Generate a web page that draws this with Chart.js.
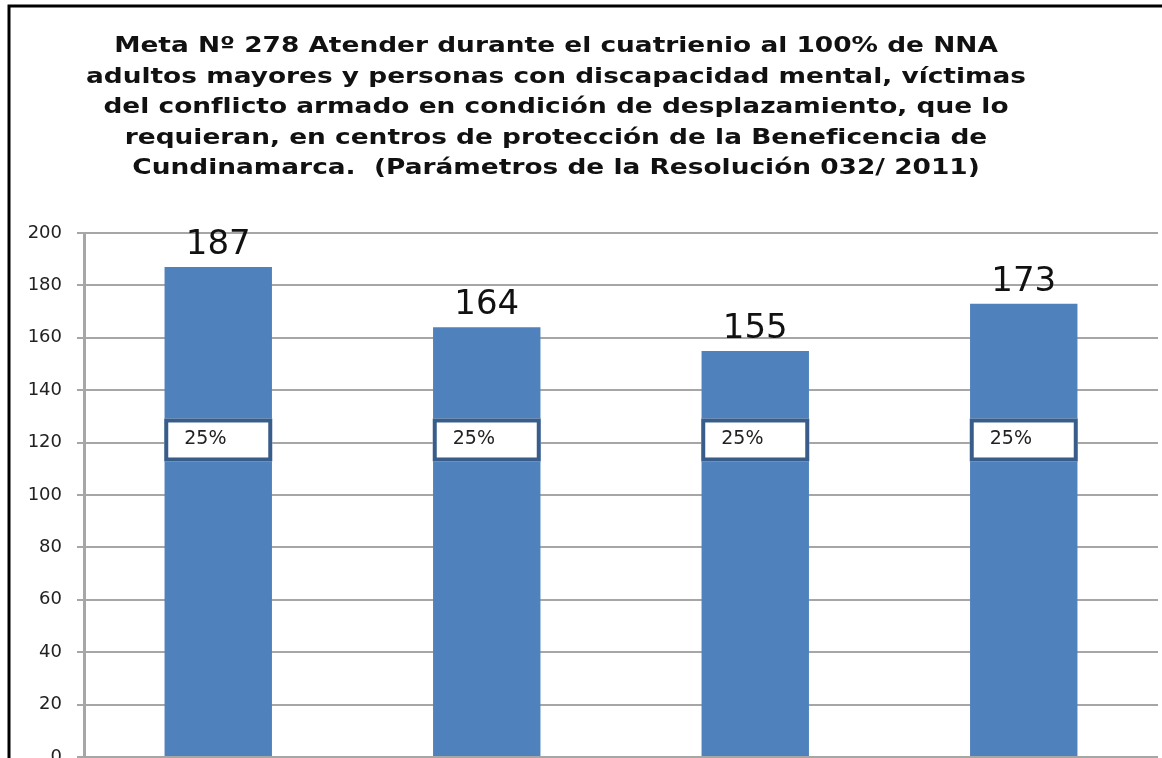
<!DOCTYPE html>
<html lang="es">
<head>
<meta charset="utf-8">
<script src="https://cdn.jsdelivr.net/npm/chart.js@4.4.0/dist/chart.umd.min.js"></script>
<style>
  html, body { margin: 0; padding: 0; background: #fff; }
  #wrap { width: 1162px; height: 758px; position: relative; }
</style>
</head>
<body>
<div id="wrap"><canvas id="metaChart"></canvas></div>
<script>
// Data
const categories = ["2012", "2013", "2014", "2015"];
const atendidos = [187, 164, 155, 173];
const porcentajes = ["25%", "25%", "25%", "25%"];
const yMax = 200;
const yStep = 20;
const titleLines = [
    "Meta Nº 278 Atender durante el cuatrienio al 100% de NNA",
    "adultos mayores y personas con discapacidad mental, víctimas",
    "del conflicto armado en condición de desplazamiento, que lo",
    "requieran, en centros de protección de la Beneficencia de",
    "Cundinamarca.  (Parámetros de la Resolución 032/ 2011)"
];

// Black frame (left + top) and the multi-line title
const frameAndTitle = {
    id: "frameAndTitle",
    beforeDraw(chart) {
        const ctx = chart.ctx;
        ctx.save();
        ctx.fillStyle = "#fff";
        ctx.fillRect(0, 0, chart.width, chart.height);
        ctx.strokeStyle = "#000";
        ctx.lineWidth = 3;
        ctx.beginPath();
        ctx.moveTo(9, chart.height);
        ctx.lineTo(9, 6);
        ctx.lineTo(chart.width, 6);
        ctx.stroke();

        // the original title is a wide, horizontally stretched bold face
        ctx.translate(556, 0);
        ctx.scale(1.2, 1);
        ctx.fillStyle = "#111";
        ctx.font = "bold 22px 'DejaVu Sans'";
        ctx.textAlign = "center";
        ctx.textBaseline = "alphabetic";
        titleLines.forEach((line, i) => ctx.fillText(line, 0, 52 + i * 30.5));
        ctx.restore();
    }
};

// Value above each bar + the "25%" box inside it
const barLabels = {
    id: "barLabels",
    afterDatasetsDraw(chart) {
        const ctx = chart.ctx;
        const meta = chart.getDatasetMeta(0);
        const yScale = chart.scales.y;
        ctx.save();
        meta.data.forEach((bar, i) => {
            ctx.fillStyle = "#111";
            ctx.font = "34px 'DejaVu Sans'";
            ctx.textAlign = "center";
            ctx.textBaseline = "alphabetic";
            ctx.fillText(atendidos[i], bar.x, bar.y - 13);

            const cy = yScale.getPixelForValue(121);
            const w = 108, h = 43;
            ctx.fillStyle = "#fff";
            ctx.fillRect(bar.x - w / 2, cy - h / 2, w, h);
            ctx.strokeStyle = "#385d8a";
            ctx.lineWidth = 4;
            ctx.strokeRect(bar.x - w / 2 + 2, cy - h / 2 + 2, w - 4, h - 4);

            ctx.fillStyle = "#222";
            ctx.font = "19px 'DejaVu Sans'";
            ctx.textAlign = "left";
            ctx.textBaseline = "middle";
            ctx.fillText(porcentajes[i], bar.x - w / 2 + 20, cy - 1);
        });
        ctx.restore();
    }
};

new Chart(document.getElementById("metaChart"), {
    type: "bar",
    data: {
        labels: categories,
        datasets: [{
            label: "Atendidos",
            data: atendidos,
            backgroundColor: "#4f81bd",
            borderWidth: 0,
            barPercentage: 0.4,
            categoryPercentage: 1.0
        }]
    },
    options: {
        responsive: true,
        maintainAspectRatio: false,
        animation: false,
        layout: {
            padding: { left: 10, right: 4, top: 233, bottom: 1 }
        },
        plugins: {
            legend: { display: false },
            title: { display: false },
            tooltip: { enabled: false }
        },
        scales: {
            x: {
                display: false
            },
            y: {
                min: 0,
                max: yMax,
                ticks: {
                    stepSize: yStep,
                    padding: 15,
                    color: "#222",
                    font: { family: "DejaVu Sans", size: 18 }
                },
                grid: {
                    color: "#a6a6a6",
                    lineWidth: 2,
                    tickLength: 7
                },
                border: {
                    display: true,
                    color: "#a6a6a6",
                    width: 3
                },
                afterFit: function(scale) {
                    scale.width = 74;
                    scale.paddingTop = 0;
                    scale.paddingBottom = 0;
                }
            }
        }
    },
    plugins: [frameAndTitle, barLabels]
});
</script>
</body>
</html>
